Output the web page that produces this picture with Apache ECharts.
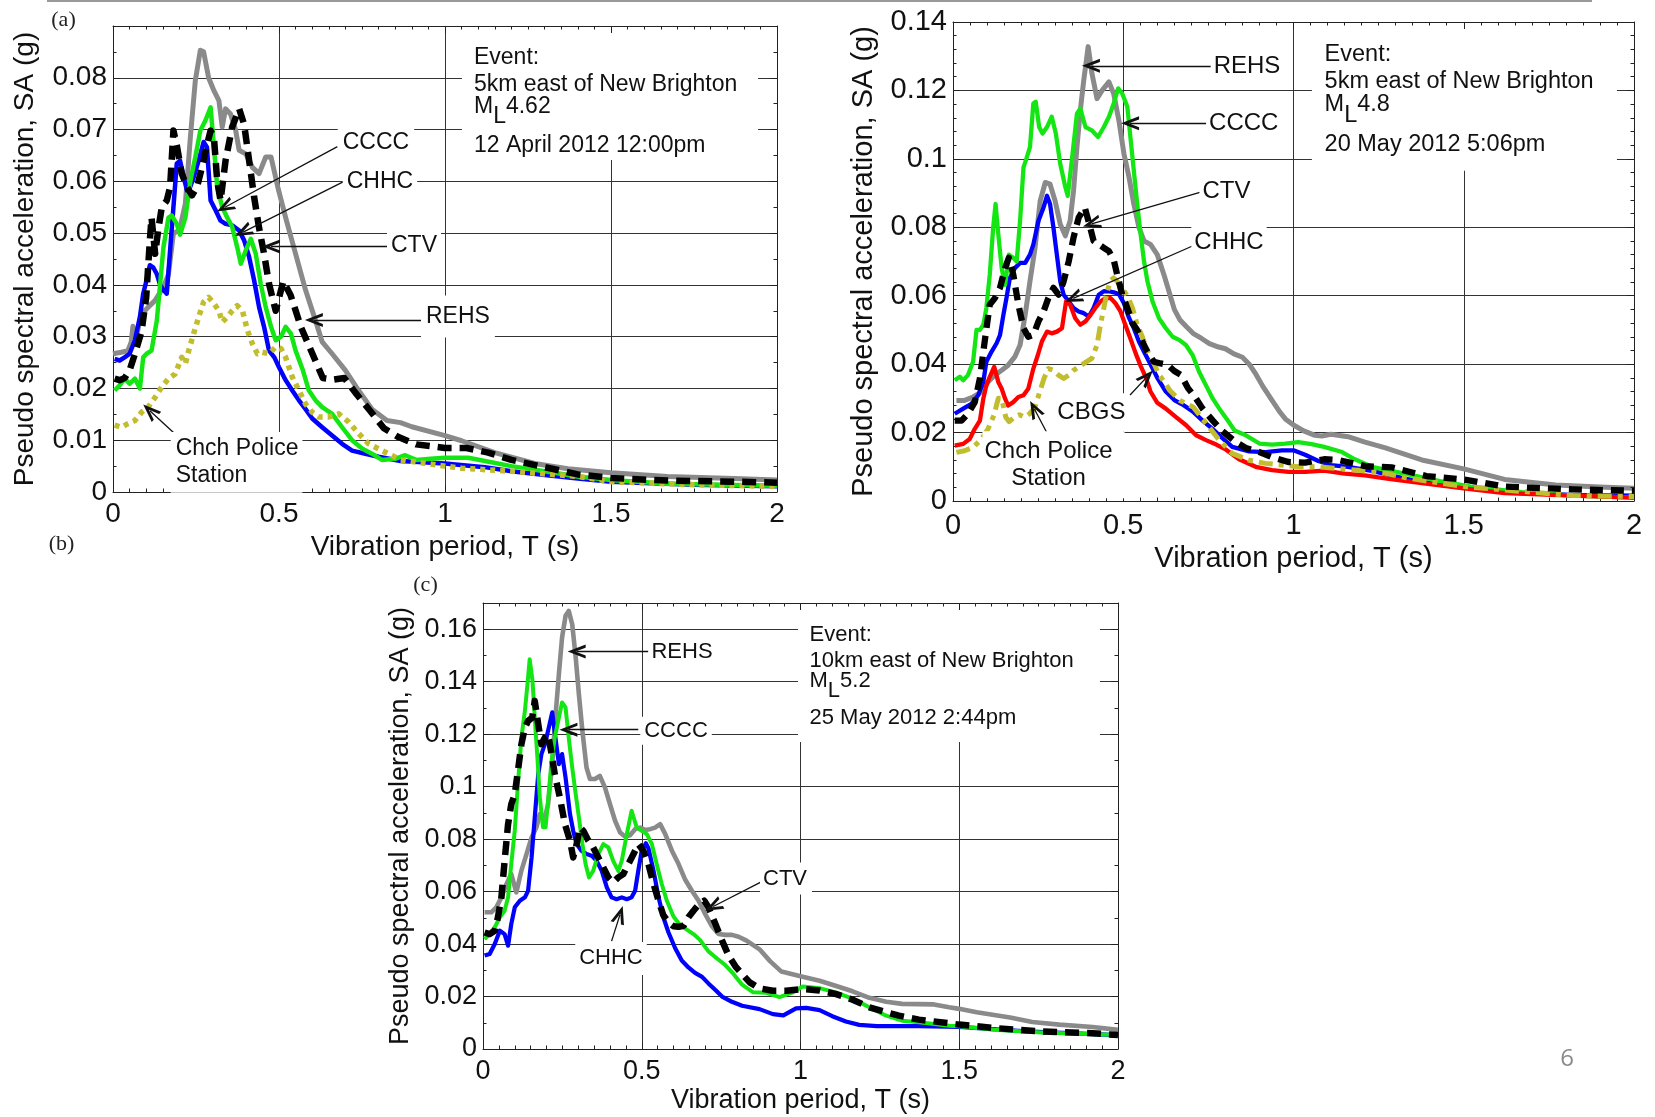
<!DOCTYPE html>
<html><head><meta charset="utf-8">
<script src="https://cdn.jsdelivr.net/npm/echarts@6/dist/echarts.min.js"></script>
<style>html,body{margin:0;padding:0;background:#fff;}#c{width:1655px;height:1117px;}</style>
</head><body><div id="c"></div>
<script>
// ---------------- DATA: [period T (s), SA (g)] ----------------
// (a) 12 April 2012
const A_REHS = [[0,0.0267],[0.025,0.027],[0.045,0.0273],[0.055,0.029],[0.06,0.032],[0.07,0.030],[0.086,0.0344],[0.106,0.0357],[0.127,0.037],[0.152,0.0396],[0.167,0.042],[0.182,0.050],[0.2,0.0505],[0.218,0.0557],[0.233,0.0685],[0.248,0.0795],[0.263,0.0853],[0.273,0.085],[0.288,0.080],[0.304,0.0775],[0.319,0.0756],[0.329,0.0705],[0.339,0.074],[0.354,0.073],[0.369,0.070],[0.38,0.066],[0.40,0.0653],[0.42,0.0627],[0.44,0.0615],[0.46,0.0647],[0.476,0.0647],[0.496,0.059],[0.52,0.053],[0.55,0.046],[0.58,0.039],[0.61,0.0331],[0.63,0.029],[0.66,0.0267],[0.70,0.0235],[0.74,0.0196],[0.78,0.016],[0.825,0.0138],[0.866,0.0134],[0.9,0.0126],[1.0,0.0109],[1.05,0.0099],[1.15,0.0076],[1.27,0.0055],[1.37,0.0045],[1.5,0.0037],[1.67,0.003],[1.87,0.0026],[2.0,0.0023]];
const A_CHHC = [[0.005,0.0257],[0.02,0.0254],[0.035,0.026],[0.05,0.0267],[0.066,0.0293],[0.081,0.0338],[0.091,0.0383],[0.101,0.0409],[0.111,0.0438],[0.121,0.0434],[0.132,0.0421],[0.142,0.040],[0.152,0.039],[0.162,0.0383],[0.172,0.0467],[0.182,0.055],[0.192,0.0634],[0.202,0.064],[0.213,0.0608],[0.223,0.0582],[0.233,0.059],[0.243,0.0608],[0.258,0.064],[0.273,0.0676],[0.283,0.0666],[0.294,0.0563],[0.309,0.0544],[0.324,0.0524],[0.339,0.0518],[0.359,0.0515],[0.38,0.0505],[0.395,0.0486],[0.41,0.0454],[0.425,0.0409],[0.44,0.0357],[0.455,0.0319],[0.47,0.0273],[0.486,0.026],[0.50,0.0241],[0.52,0.0216],[0.54,0.0196],[0.56,0.0177],[0.58,0.016],[0.60,0.0142],[0.63,0.0125],[0.66,0.0109],[0.69,0.0093],[0.72,0.008],[0.76,0.0074],[0.80,0.0068],[0.866,0.006],[1.0,0.0055],[1.12,0.0048],[1.2,0.004],[1.3,0.0033],[1.4,0.0026],[1.5,0.002],[1.75,0.0014],[2.0,0.0011]];
const A_CCCC = [[0.005,0.0196],[0.02,0.0206],[0.035,0.0219],[0.05,0.0209],[0.066,0.0219],[0.081,0.020],[0.091,0.026],[0.101,0.0267],[0.116,0.0273],[0.132,0.0331],[0.142,0.0402],[0.152,0.0473],[0.167,0.053],[0.177,0.0534],[0.192,0.0518],[0.202,0.0497],[0.218,0.053],[0.233,0.060],[0.248,0.0647],[0.263,0.0698],[0.278,0.0717],[0.294,0.0743],[0.304,0.0666],[0.314,0.0589],[0.329,0.055],[0.344,0.053],[0.359,0.0512],[0.374,0.0473],[0.385,0.0441],[0.40,0.0467],[0.415,0.0489],[0.43,0.046],[0.445,0.0402],[0.46,0.0357],[0.476,0.0319],[0.49,0.0293],[0.506,0.030],[0.52,0.0319],[0.536,0.0306],[0.55,0.0273],[0.572,0.0235],[0.59,0.0196],[0.61,0.0177],[0.63,0.0164],[0.66,0.0151],[0.69,0.0125],[0.72,0.010],[0.75,0.0084],[0.78,0.0074],[0.81,0.0062],[0.85,0.0064],[0.88,0.0071],[0.913,0.0062],[0.957,0.0064],[1.0,0.0066],[1.07,0.0066],[1.12,0.006],[1.2,0.005],[1.3,0.004],[1.4,0.003],[1.5,0.0023],[1.67,0.0016],[2.0,0.0012]];
const A_POLICE = [[0.005,0.0129],[0.025,0.0125],[0.045,0.0132],[0.066,0.0138],[0.086,0.0154],[0.106,0.0164],[0.127,0.0183],[0.147,0.0203],[0.167,0.0219],[0.187,0.0228],[0.207,0.026],[0.218,0.0248],[0.228,0.0273],[0.243,0.0306],[0.258,0.0338],[0.273,0.0367],[0.288,0.0376],[0.304,0.0364],[0.319,0.035],[0.329,0.0328],[0.344,0.0338],[0.359,0.035],[0.374,0.036],[0.39,0.035],[0.405,0.0312],[0.42,0.0286],[0.435,0.0267],[0.45,0.027],[0.47,0.0267],[0.49,0.028],[0.506,0.0277],[0.52,0.026],[0.54,0.0222],[0.56,0.0196],[0.58,0.017],[0.60,0.0154],[0.62,0.0145],[0.65,0.0145],[0.68,0.0151],[0.71,0.0135],[0.74,0.0113],[0.77,0.0093],[0.81,0.008],[0.866,0.0062],[1.0,0.005],[1.05,0.0046],[1.2,0.004],[1.4,0.003],[1.5,0.002],[1.75,0.0014],[2.0,0.0011]];
const A_CTV = [[0.005,0.0219],[0.02,0.0216],[0.035,0.022],[0.05,0.0235],[0.066,0.0267],[0.086,0.031],[0.10,0.0376],[0.111,0.0486],[0.116,0.053],[0.127,0.046],[0.137,0.051],[0.147,0.055],[0.162,0.0563],[0.172,0.0589],[0.182,0.0698],[0.192,0.067],[0.207,0.0615],[0.223,0.0589],[0.238,0.0573],[0.253,0.0589],[0.268,0.0627],[0.283,0.067],[0.294,0.0698],[0.304,0.0685],[0.314,0.060],[0.324,0.0563],[0.339,0.064],[0.359,0.0705],[0.38,0.074],[0.395,0.071],[0.41,0.064],[0.425,0.057],[0.44,0.051],[0.455,0.046],[0.47,0.0402],[0.49,0.035],[0.513,0.0407],[0.535,0.038],[0.567,0.0317],[0.6,0.0268],[0.632,0.022],[0.665,0.0217],[0.697,0.022],[0.73,0.0192],[0.773,0.0158],[0.816,0.0123],[0.86,0.0106],[0.913,0.0092],[1.0,0.0085],[1.065,0.0085],[1.13,0.0076],[1.2,0.0062],[1.3,0.0048],[1.4,0.0034],[1.5,0.0027],[1.67,0.0022],[1.87,0.002],[2.0,0.0018]];
// (b) 20 May 2012
const B_REHS = [[0.01,0.0294],[0.034,0.0294],[0.059,0.0304],[0.084,0.0319],[0.103,0.0348],[0.123,0.0368],[0.143,0.0382],[0.162,0.0397],[0.182,0.0422],[0.197,0.0456],[0.212,0.0544],[0.226,0.0642],[0.241,0.074],[0.256,0.0877],[0.271,0.0931],[0.285,0.0926],[0.30,0.0877],[0.315,0.0809],[0.33,0.0775],[0.344,0.0819],[0.354,0.0907],[0.364,0.1034],[0.374,0.1142],[0.384,0.123],[0.397,0.1328],[0.408,0.125],[0.423,0.1176],[0.438,0.120],[0.458,0.1225],[0.472,0.119],[0.487,0.1113],[0.502,0.1015],[0.517,0.0946],[0.531,0.0868],[0.546,0.080],[0.561,0.076],[0.58,0.075],[0.60,0.072],[0.62,0.066],[0.635,0.061],[0.65,0.056],[0.666,0.053],[0.685,0.051],[0.705,0.049],[0.73,0.0475],[0.753,0.046],[0.78,0.045],[0.8,0.0445],[0.825,0.043],[0.85,0.042],[0.87,0.040],[0.89,0.037],[0.91,0.0335],[0.937,0.0294],[0.96,0.026],[0.976,0.024],[1.0,0.0222],[1.03,0.0205],[1.063,0.0192],[1.083,0.019],[1.11,0.0195],[1.16,0.0188],[1.21,0.0172],[1.27,0.0155],[1.31,0.0142],[1.377,0.012],[1.5,0.0094],[1.62,0.0063],[1.77,0.0047],[1.917,0.004],[2.0,0.0037]];
const B_CHHC = [[0.005,0.0255],[0.03,0.027],[0.054,0.0284],[0.074,0.0309],[0.089,0.0348],[0.098,0.0407],[0.113,0.0436],[0.128,0.0461],[0.138,0.0485],[0.148,0.0544],[0.157,0.0593],[0.167,0.0652],[0.182,0.0681],[0.197,0.0696],[0.212,0.0696],[0.226,0.072],[0.236,0.075],[0.251,0.0819],[0.266,0.0858],[0.276,0.0892],[0.285,0.0868],[0.295,0.0799],[0.305,0.072],[0.315,0.0642],[0.325,0.0603],[0.34,0.0583],[0.354,0.0564],[0.369,0.0554],[0.384,0.0549],[0.399,0.0539],[0.413,0.0564],[0.428,0.0603],[0.443,0.0613],[0.458,0.0613],[0.472,0.061],[0.487,0.0605],[0.502,0.0578],[0.517,0.0535],[0.531,0.0505],[0.546,0.0466],[0.561,0.0436],[0.58,0.040],[0.60,0.036],[0.625,0.032],[0.65,0.0295],[0.674,0.0282],[0.704,0.0262],[0.733,0.0235],[0.763,0.021],[0.79,0.0185],[0.82,0.0158],[0.87,0.0145],[0.918,0.0143],[0.966,0.0148],[1.0,0.0148],[1.034,0.0135],[1.073,0.0117],[1.11,0.0105],[1.16,0.010],[1.23,0.0088],[1.33,0.0065],[1.43,0.0047],[1.52,0.0037],[1.67,0.0023],[1.82,0.0018],[2.0,0.0016]];
const B_CCCC = [[0.005,0.0353],[0.02,0.0363],[0.03,0.0353],[0.044,0.0368],[0.059,0.0407],[0.069,0.050],[0.079,0.050],[0.089,0.0515],[0.098,0.0564],[0.108,0.0662],[0.118,0.0799],[0.125,0.0868],[0.133,0.078],[0.143,0.068],[0.153,0.0632],[0.164,0.072],[0.177,0.0711],[0.187,0.070],[0.197,0.0819],[0.207,0.0975],[0.217,0.1005],[0.226,0.1034],[0.236,0.1162],[0.243,0.1167],[0.253,0.1093],[0.263,0.1074],[0.276,0.1093],[0.29,0.1123],[0.302,0.1074],[0.315,0.0985],[0.33,0.0917],[0.337,0.0892],[0.35,0.1005],[0.364,0.1132],[0.374,0.1147],[0.389,0.1093],[0.408,0.1083],[0.426,0.1064],[0.443,0.1093],[0.458,0.1123],[0.472,0.1162],[0.485,0.1206],[0.497,0.1191],[0.512,0.1152],[0.522,0.1054],[0.531,0.0966],[0.541,0.0868],[0.551,0.078],[0.561,0.0701],[0.571,0.0642],[0.586,0.0583],[0.605,0.0534],[0.625,0.0505],[0.645,0.048],[0.664,0.0471],[0.684,0.0456],[0.704,0.0426],[0.723,0.0377],[0.743,0.0338],[0.763,0.0299],[0.782,0.027],[0.807,0.0235],[0.827,0.0206],[0.86,0.0192],[0.9,0.0168],[0.937,0.0165],[0.976,0.0168],[1.014,0.0172],[1.053,0.0166],[1.09,0.0158],[1.14,0.0144],[1.18,0.0122],[1.23,0.010],[1.33,0.0079],[1.43,0.0058],[1.52,0.0042],[1.67,0.0026],[1.82,0.0016],[2.0,0.001]];
const B_CBGS = [[0.005,0.0162],[0.03,0.0167],[0.049,0.0181],[0.064,0.0211],[0.079,0.0235],[0.089,0.0299],[0.098,0.0338],[0.108,0.0363],[0.121,0.0392],[0.133,0.0348],[0.143,0.0328],[0.153,0.0299],[0.162,0.0279],[0.177,0.0289],[0.192,0.0304],[0.207,0.0309],[0.221,0.0328],[0.236,0.0387],[0.249,0.0426],[0.261,0.0466],[0.276,0.0495],[0.29,0.049],[0.305,0.0495],[0.32,0.0505],[0.332,0.0583],[0.344,0.0574],[0.359,0.0534],[0.374,0.0515],[0.389,0.0525],[0.404,0.0544],[0.418,0.0564],[0.433,0.0583],[0.448,0.0593],[0.463,0.0593],[0.477,0.0578],[0.492,0.0554],[0.507,0.0512],[0.522,0.0472],[0.536,0.0433],[0.551,0.0395],[0.566,0.0362],[0.58,0.032],[0.60,0.0287],[0.625,0.027],[0.655,0.0245],[0.684,0.0222],[0.714,0.0192],[0.743,0.0178],[0.773,0.0165],[0.802,0.015],[0.84,0.0122],[0.889,0.010],[0.937,0.009],[0.985,0.0085],[1.034,0.0085],[1.09,0.0089],[1.15,0.008],[1.21,0.0075],[1.28,0.0065],[1.377,0.0052],[1.5,0.0037],[1.62,0.0023],[1.82,0.0016],[2.0,0.001]];
const B_POLICE = [[0.01,0.0142],[0.034,0.0147],[0.059,0.0157],[0.084,0.0181],[0.103,0.0211],[0.12,0.025],[0.133,0.030],[0.143,0.030],[0.155,0.0245],[0.165,0.0232],[0.18,0.0245],[0.195,0.0252],[0.21,0.0245],[0.225,0.0255],[0.24,0.0272],[0.255,0.032],[0.268,0.036],[0.28,0.0387],[0.295,0.0382],[0.31,0.0368],[0.325,0.0358],[0.34,0.0368],[0.354,0.0382],[0.369,0.0392],[0.389,0.0405],[0.408,0.0417],[0.423,0.0456],[0.433,0.0515],[0.443,0.0564],[0.453,0.0613],[0.463,0.0645],[0.472,0.0652],[0.482,0.0642],[0.497,0.062],[0.512,0.060],[0.527,0.0564],[0.541,0.0515],[0.556,0.048],[0.571,0.044],[0.586,0.041],[0.605,0.037],[0.637,0.0323],[0.666,0.0294],[0.705,0.0275],[0.744,0.0226],[0.782,0.0178],[0.82,0.0139],[0.87,0.0119],[0.918,0.011],[0.966,0.0105],[1.014,0.010],[1.073,0.010],[1.13,0.0095],[1.19,0.009],[1.27,0.0081],[1.33,0.0068],[1.5,0.0042],[1.82,0.0016],[2.0,0.0013]];
const B_CTV = [[0.005,0.0235],[0.025,0.0235],[0.044,0.0255],[0.064,0.0289],[0.079,0.0358],[0.093,0.0466],[0.108,0.0574],[0.123,0.0593],[0.138,0.0623],[0.153,0.0681],[0.164,0.0711],[0.177,0.0662],[0.192,0.0574],[0.207,0.0505],[0.221,0.048],[0.236,0.0485],[0.251,0.0525],[0.266,0.0554],[0.28,0.0593],[0.295,0.0623],[0.31,0.0603],[0.325,0.0642],[0.34,0.0701],[0.354,0.077],[0.369,0.0828],[0.387,0.0858],[0.399,0.0814],[0.413,0.076],[0.428,0.075],[0.443,0.074],[0.458,0.073],[0.472,0.0705],[0.482,0.0662],[0.497,0.0603],[0.512,0.0564],[0.527,0.052],[0.541,0.050],[0.556,0.0466],[0.571,0.0436],[0.59,0.0407],[0.61,0.0402],[0.63,0.0398],[0.65,0.038],[0.67,0.0368],[0.69,0.033],[0.71,0.0305],[0.733,0.027],[0.763,0.0235],[0.79,0.0205],[0.827,0.0175],[0.86,0.0155],[0.9,0.0143],[0.937,0.0128],[0.985,0.0114],[1.034,0.0112],[1.09,0.0122],[1.13,0.012],[1.21,0.0102],[1.29,0.0098],[1.39,0.0073],[1.5,0.0063],[1.62,0.0042],[1.82,0.0034],[2.0,0.003]];
// (c) 25 May 2012
const C_REHS = [[0.005,0.0521],[0.026,0.0521],[0.042,0.054],[0.058,0.0578],[0.074,0.0629],[0.089,0.0667],[0.105,0.0597],[0.121,0.068],[0.137,0.0743],[0.153,0.0806],[0.168,0.0844],[0.179,0.0895],[0.195,0.0883],[0.205,0.0933],[0.218,0.1086],[0.228,0.1263],[0.239,0.1429],[0.249,0.1568],[0.26,0.1651],[0.27,0.167],[0.281,0.1619],[0.292,0.1492],[0.302,0.1352],[0.313,0.1213],[0.326,0.1073],[0.337,0.1029],[0.353,0.1029],[0.368,0.1041],[0.384,0.0997],[0.40,0.0933],[0.416,0.087],[0.432,0.0825],[0.447,0.081],[0.463,0.0815],[0.479,0.0838],[0.495,0.0844],[0.51,0.0835],[0.526,0.0838],[0.542,0.0844],[0.558,0.0857],[0.574,0.0819],[0.595,0.0756],[0.616,0.0705],[0.637,0.0645],[0.658,0.0603],[0.679,0.0565],[0.70,0.0514],[0.72,0.047],[0.742,0.0438],[0.763,0.0435],[0.784,0.0435],[0.805,0.0428],[0.83,0.0413],[0.871,0.038],[0.904,0.0335],[0.94,0.0295],[1.0,0.0277],[1.06,0.026],[1.11,0.0241],[1.164,0.022],[1.217,0.0195],[1.27,0.018],[1.32,0.0172],[1.42,0.017],[1.468,0.0159],[1.5,0.0153],[1.555,0.014],[1.66,0.012],[1.73,0.0103],[1.815,0.0093],[1.92,0.0084],[2.0,0.0073]];
const C_CHHC = [[0.005,0.0356],[0.021,0.0362],[0.037,0.040],[0.053,0.0451],[0.068,0.0438],[0.079,0.0394],[0.089,0.0476],[0.10,0.054],[0.116,0.0565],[0.132,0.0578],[0.142,0.0603],[0.153,0.073],[0.163,0.0883],[0.174,0.1048],[0.184,0.1124],[0.195,0.1162],[0.205,0.1213],[0.218,0.1283],[0.228,0.1187],[0.239,0.1086],[0.249,0.1124],[0.26,0.1035],[0.274,0.0895],[0.284,0.0832],[0.295,0.0781],[0.31,0.0756],[0.326,0.0743],[0.342,0.0737],[0.358,0.0717],[0.374,0.0679],[0.39,0.0616],[0.405,0.0578],[0.421,0.0571],[0.437,0.0578],[0.453,0.0571],[0.468,0.0578],[0.479,0.0603],[0.489,0.0679],[0.50,0.0756],[0.513,0.0784],[0.521,0.0765],[0.537,0.068],[0.553,0.0578],[0.568,0.0502],[0.584,0.0445],[0.605,0.0385],[0.626,0.0337],[0.647,0.0311],[0.668,0.029],[0.69,0.0275],[0.71,0.025],[0.732,0.0225],[0.753,0.020],[0.784,0.018],[0.816,0.0165],[0.871,0.0152],[0.913,0.0133],[0.946,0.0128],[0.986,0.0155],[1.018,0.0157],[1.06,0.0148],[1.1,0.0125],[1.143,0.0105],[1.185,0.0092],[1.24,0.0087],[1.373,0.0087],[1.5,0.0084],[1.71,0.0067],[2.0,0.0053]];
const C_CCCC = [[0.005,0.0419],[0.021,0.0438],[0.037,0.0464],[0.053,0.0502],[0.068,0.0527],[0.079,0.0578],[0.089,0.0705],[0.10,0.0832],[0.11,0.101],[0.121,0.1187],[0.132,0.1289],[0.14,0.139],[0.147,0.1486],[0.156,0.1403],[0.163,0.1263],[0.172,0.1098],[0.179,0.0959],[0.189,0.0845],[0.197,0.0845],[0.205,0.0946],[0.216,0.1098],[0.226,0.1187],[0.237,0.1251],[0.249,0.1321],[0.26,0.1302],[0.27,0.1187],[0.281,0.1073],[0.292,0.0971],[0.302,0.0883],[0.313,0.0781],[0.323,0.0705],[0.334,0.0654],[0.347,0.0679],[0.363,0.0743],[0.379,0.0781],[0.395,0.0768],[0.41,0.0717],[0.426,0.0679],[0.437,0.0717],[0.453,0.0819],[0.468,0.0908],[0.484,0.0845],[0.50,0.0832],[0.516,0.0819],[0.532,0.0781],[0.547,0.0705],[0.563,0.0629],[0.579,0.0565],[0.60,0.0505],[0.621,0.0472],[0.642,0.0455],[0.663,0.0438],[0.684,0.0415],[0.71,0.0372],[0.737,0.0345],[0.763,0.032],[0.789,0.0286],[0.816,0.0245],[0.851,0.0216],[0.892,0.0214],[0.934,0.0198],[0.976,0.0216],[1.007,0.0238],[1.06,0.0232],[1.11,0.0216],[1.164,0.0192],[1.217,0.0159],[1.27,0.0127],[1.32,0.0108],[1.373,0.0102],[1.468,0.0089],[1.5,0.0087],[1.61,0.0073],[1.76,0.0063],[2.0,0.0053]];
const C_CTV = [[0.005,0.0444],[0.021,0.0438],[0.037,0.0451],[0.047,0.0502],[0.058,0.0578],[0.068,0.0717],[0.079,0.0857],[0.089,0.0933],[0.10,0.0971],[0.11,0.106],[0.121,0.1162],[0.132,0.1225],[0.142,0.1251],[0.155,0.1263],[0.163,0.1327],[0.174,0.1238],[0.184,0.1162],[0.195,0.1187],[0.205,0.12],[0.216,0.1124],[0.226,0.1048],[0.242,0.0959],[0.258,0.0857],[0.274,0.0794],[0.284,0.073],[0.295,0.0781],[0.305,0.0845],[0.316,0.0832],[0.332,0.0794],[0.347,0.0768],[0.363,0.073],[0.379,0.0692],[0.395,0.0654],[0.41,0.0635],[0.426,0.0654],[0.442,0.0667],[0.458,0.0705],[0.474,0.0743],[0.489,0.0781],[0.505,0.0756],[0.521,0.0705],[0.537,0.063],[0.553,0.0565],[0.568,0.051],[0.584,0.0483],[0.60,0.0468],[0.616,0.0466],[0.632,0.047],[0.647,0.0502],[0.663,0.0527],[0.679,0.055],[0.697,0.0565],[0.71,0.054],[0.732,0.0476],[0.753,0.0413],[0.774,0.0355],[0.795,0.0315],[0.816,0.0286],[0.84,0.0254],[0.871,0.0231],[0.913,0.0222],[0.955,0.0222],[1.007,0.0229],[1.06,0.0223],[1.11,0.021],[1.164,0.0188],[1.217,0.0159],[1.27,0.014],[1.31,0.0127],[1.373,0.0112],[1.468,0.0098],[1.5,0.0093],[1.61,0.008],[1.76,0.0067],[1.92,0.006],[2.0,0.0053]];

// axis ranges / tick steps per panel
const X_RANGE = [0, 2], X_STEP = 0.5;
const Y_MAX = [0.09, 0.14, 0.17];
const Y_STEP = [0.01, 0.02, 0.02];
const Y_MINOR = [2, 5, 2];
const AXIS_TITLE_X = 'Vibration period, T (s)';
const AXIS_TITLE_Y = 'Pseudo spectral acceleration, SA (g)';

// ---------------- LAYOUT / STYLE ----------------
const FONT = '"Liberation Sans", Arial, sans-serif';
const GRIDS = [
  {left:113, top:26, width:664, height:466},
  {left:953, top:22, width:681, height:479},
  {left:483, top:603, width:635, height:446}
];
const FS = [28, 29, 27];
const XMARGIN = [8, 10, 9], YMARGIN = [6, 6, 6];
const XGAP = [41, 43, 38], YGAP = [74, 75, 69];

const COL = {REHS:'#8a8a8a', CCCC:'#14e614', CHHC:'#0000ff', CBGS:'#ff0000', CTV:'#000000', POL:'#c2bd2c'};
const CHEV = 'path://M0,20 L9,0 L18,20 L14,20 L9,8.5 L4,20 Z';

function fmtHide(hide){
  return function(v){ if (hide !== null && Math.abs(v-hide) < 1e-9) return ''; return String(+v.toFixed(4)); };
}

const xAxes = [], yAxes = [];
for (let p = 0; p < 3; p++) {
  const tickStyle = {color:'#222', width:1};
  xAxes.push({type:'value', gridIndex:p, position:'bottom', min:X_RANGE[0], max:X_RANGE[1], interval:X_STEP,
    axisLine:{show:true, onZero:false, lineStyle:{color:'#222', width:1}},
    axisTick:{show:true, inside:true, length:7, lineStyle:tickStyle},
    minorTick:{show:true, splitNumber:10, length:3.5, lineStyle:tickStyle},
    axisLabel:{show:true, margin:XMARGIN[p], fontSize:FS[p], fontFamily:FONT, color:'#111', formatter:fmtHide(null)},
    splitLine:{show:true, lineStyle:{color:'#333', width:1}},
    name:AXIS_TITLE_X, nameLocation:'middle', nameGap:XGAP[p],
    nameTextStyle:{fontSize:FS[p], fontFamily:FONT, color:'#111'}});
  xAxes.push({type:'value', gridIndex:p, position:'top', min:X_RANGE[0], max:X_RANGE[1], interval:X_STEP, z:3,
    axisLine:{show:true, onZero:false, lineStyle:{color:'#222', width:1}},
    axisTick:{show:true, inside:true, length:7, lineStyle:tickStyle},
    minorTick:{show:true, splitNumber:10, length:3.5, lineStyle:tickStyle},
    axisLabel:{show:false}, splitLine:{show:false}});
  const hide = (p === 1) ? null : Y_MAX[p];
  yAxes.push({type:'value', gridIndex:p, position:'left', min:0, max:Y_MAX[p], interval:Y_STEP[p],
    axisLine:{show:true, onZero:false, lineStyle:{color:'#222', width:1}},
    axisTick:{show:true, inside:true, length:7, lineStyle:tickStyle},
    minorTick:{show:true, splitNumber:Y_MINOR[p], length:3.5, lineStyle:tickStyle},
    axisLabel:{show:true, margin:YMARGIN[p], fontSize:FS[p], fontFamily:FONT, color:'#111', formatter:fmtHide(hide)},
    splitLine:{show:true, lineStyle:{color:'#333', width:1}},
    name:AXIS_TITLE_Y, nameLocation:'middle', nameRotate:90, nameGap:YGAP[p],
    nameTextStyle:{fontSize:FS[p], fontFamily:FONT, color:'#111'}});
  yAxes.push({type:'value', gridIndex:p, position:'right', min:0, max:Y_MAX[p], interval:Y_STEP[p], z:3,
    axisLine:{show:true, onZero:false, lineStyle:{color:'#222', width:1}},
    axisTick:{show:true, inside:true, length:7, lineStyle:tickStyle},
    minorTick:{show:true, splitNumber:Y_MINOR[p], length:3.5, lineStyle:tickStyle},
    axisLabel:{show:false}, splitLine:{show:false}});
}

function line(p, name, data, color, width, dash, z) {
  return {type:'line', name:name, xAxisIndex:2*p, yAxisIndex:2*p, data:data, symbol:'none', showSymbol:false,
    smooth:false, silent:true, z:z||2, animation:false,
    lineStyle:{color:color, width:width, type:dash||'solid', cap:'butt', join:'round'},
    emphasis:{disabled:true}};
}

function txt(t, s, text, o) {
  o = o || {};
  const pad = o.pad || [0,0,0,0];
  const align = o.align || 'center';
  const va = o.va || 'middle';
  let dx = 0, dy = 0;
  if (align === 'center') dx = -(pad[3]-pad[1])/2; else if (align === 'left') dx = -pad[3]; else dx = pad[1];
  if (va === 'middle') dy = -(pad[0]-pad[2])/2; else if (va === 'top') dy = -pad[0]; else dy = pad[2];
  const lab = {show:true, position:'inside', formatter:text, align:align, verticalAlign:va,
    offset:[dx + (o.dx||0), dy + (o.dy||0)], fontFamily:FONT, fontSize:o.size||23, color:'#111',
    padding:pad};
  if (o.bg) lab.backgroundColor = '#ffffff';
  if (o.lh) lab.lineHeight = o.lh;
  if (o.rich) lab.rich = o.rich;
  return {coord:[t, s], symbol:'rect', symbolSize:1, itemStyle:{color:'rgba(0,0,0,0)'}, label:lab};
}
function ml(size, num) {
  const m = {fontFamily:FONT, fontSize:size, color:'#111', lineHeight:size, verticalAlign:'top'};
  const sub = {fontFamily:FONT, fontSize:size, color:'#111', lineHeight:size, verticalAlign:'top', padding:[Math.round(size*0.45),0,0,0]};
  return {text:'{m|M}{s|L}{m|' + num + '}', rich:{m:m, s:sub}};
}
function lead(t1, s1, t2, s2) {
  return [{coord:[t1, s1], symbol:'none'}, {coord:[t2, s2], symbol:CHEV}];
}
function annSeries(p, texts, leads, boxes) {
  return [
    {type:'line', name:'box'+p, xAxisIndex:2*p, yAxisIndex:2*p, data:[], z:1, silent:true, animation:false,
      markArea:{silent:true, animation:false, itemStyle:{color:'#ffffff', opacity:1, borderWidth:0}, label:{show:false},
        data:boxes.map(b => [{coord:[b[0], b[1]]}, {coord:[b[2], b[3]]}])}},
    {type:'line', name:'ann'+p, xAxisIndex:2*p, yAxisIndex:2*p, data:[], z:4, silent:true, animation:false,
      markLine:{silent:true, animation:false, symbol:['none', CHEV], symbolSize:[14,18], label:{show:false},
        lineStyle:{color:'#111', width:1.3, type:'solid'}, itemStyle:{color:'#111'}, emphasis:{disabled:true},
        data:leads},
      markPoint:{silent:true, animation:false, data:texts}}
  ];
}

// ---- panel (a)
const mlA = ml(23, '4.62');
const annA = annSeries(0, [
  txt(0.792, 0.0669, 'CCCC', {bg:true, pad:[8,5,2,5]}),
  txt(0.804, 0.05997, 'CHHC', {bg:true, pad:[2,4,2,4]}),
  txt(0.9066, 0.04712, 'CTV', {bg:true, pad:[7,4,2,4]}),
  txt(1.039, 0.03322, 'REHS', {bg:true, pad:[13,5,6,5]}),
  txt(0.1889, 0.005736, 'Chch Police\nStation', {bg:true, align:'left', lh:27.4, pad:[3,4,3,5]}),
  txt(1.0873, 0.08382, 'Event:', {align:'left'}),
  txt(1.0873, 0.07872, '5km east of New Brighton', {align:'left'}),
  txt(1.0873, 0.07443, mlA.text, {align:'left', va:'top', dy:-11.5, rich:mlA.rich}),
  txt(1.0873, 0.06688, '12 April 2012 12:00pm', {align:'left'})
], [
  lead(0.676, 0.0667, 0.337, 0.0550),
  lead(0.693, 0.0599, 0.392, 0.0502),
  lead(0.827, 0.0474, 0.476, 0.0474),
  lead(0.928, 0.0332, 0.605, 0.0332),
  lead(0.187, 0.0112, 0.111, 0.0157)
], [[1.051, 0.0641, 1.943, 0.09]]);

// ---- panel (b)
const mlB = ml(23.5, '4.8');
const annB = annSeries(1, [
  txt(0.8634, 0.1270, 'REHS', {bg:true, size:24, pad:[2,3,2,3]}),
  txt(0.8538, 0.11028, 'CCCC', {bg:true, size:24, pad:[2,3,2,3]}),
  txt(0.8032, 0.09046, 'CTV', {bg:true, size:24, pad:[2,3,2,3]}),
  txt(0.8106, 0.07489, 'CHHC', {bg:true, size:24, pad:[7,3,2,3]}),
  txt(0.4064, 0.02564, 'CBGS', {bg:true, size:24, pad:[8,3,6,3]}),
  txt(0.2805, 0.00925, 'Chch Police\nStation', {bg:true, size:24, lh:27, pad:[11,12,2,2]}),
  txt(1.0913, 0.13063, 'Event:', {align:'left', size:23.5}),
  txt(1.0913, 0.12258, '5km east of New Brighton', {align:'left', size:23.5}),
  txt(1.0913, 0.11586, mlB.text, {align:'left', va:'top', dy:-11.75, size:23.5, rich:mlB.rich}),
  txt(1.0913, 0.10426, '20 May 2012 5:06pm', {align:'left', size:23.5})
], [
  lead(0.761, 0.1272, 0.405, 0.1272),
  lead(0.749, 0.1104, 0.52, 0.1104),
  lead(0.725, 0.0902, 0.407, 0.081),
  lead(0.705, 0.0746, 0.353, 0.0592),
  lead(0.52, 0.031, 0.569, 0.0362),
  lead(0.275, 0.0201, 0.239, 0.0269)
], [[1.054, 0.0965, 1.95, 0.14]]);

// ---- panel (c)
const mlC = ml(22, '5.2');
const annC = annSeries(2, [
  txt(0.6268, 0.15128, 'REHS', {bg:true, size:22, pad:[2,3,2,3]}),
  txt(0.6079, 0.12133, 'CCCC', {bg:true, size:22, pad:[3,4,3,4]}),
  txt(0.9512, 0.06383, 'CTV', {bg:true, size:22, pad:[8,5,2,3]}),
  txt(0.4031, 0.03357, 'CHHC', {bg:true, size:22, pad:[8,4,3,4]}),
  txt(1.0284, 0.15784, 'Event:', {align:'left', size:22}),
  txt(1.0284, 0.14803, '10km east of New Brighton', {align:'left', size:22}),
  txt(1.0284, 0.14014, mlC.text, {align:'left', va:'top', dy:-11, size:22, rich:mlC.rich}),
  txt(1.0284, 0.12629, '25 May 2012 2:44pm', {align:'left', size:22})
], [
  lead(0.5206, 0.1515, 0.295, 0.1515),
  lead(0.489, 0.1217, 0.269, 0.1217),
  lead(0.878, 0.0638, 0.725, 0.0543),
  lead(0.405, 0.0411, 0.4315, 0.0512)
], [[0.992, 0.117, 1.943, 0.17]]);

const series = [].concat(
  annA,
  line(0, 'REHS', A_REHS, COL.REHS, 5),
  line(0, 'CHHC', A_CHHC, COL.CHHC, 4.5),
  line(0, 'CCCC', A_CCCC, COL.CCCC, 4.5),
  line(0, 'Chch Police Station', A_POLICE, COL.POL, 5.5, [5,5]),
  line(0, 'CTV', A_CTV, COL.CTV, 6.5, [14,8]),
  annB,
  line(1, 'REHS', B_REHS, COL.REHS, 5),
  line(1, 'CHHC', B_CHHC, COL.CHHC, 4.3),
  line(1, 'CCCC', B_CCCC, COL.CCCC, 4.3),
  line(1, 'CBGS', B_CBGS, COL.CBGS, 4.3),
  line(1, 'Chch Police Station', B_POLICE, COL.POL, 5, [14,6,5,6]),
  line(1, 'CTV', B_CTV, COL.CTV, 6.3, [13,8]),
  annC,
  line(2, 'REHS', C_REHS, COL.REHS, 4.6),
  line(2, 'CHHC', C_CHHC, COL.CHHC, 4.2),
  line(2, 'CCCC', C_CCCC, COL.CCCC, 4),
  line(2, 'CTV', C_CTV, COL.CTV, 6.5, [14,8])
);

const chart = echarts.init(document.getElementById('c'), null, {renderer:'canvas', width:1655, height:1117});
chart.setOption({
  backgroundColor:'#ffffff',
  animation:false,
  grid: GRIDS.map(g => Object.assign({containLabel:false, outerBoundsMode:'none', show:false}, g)),
  xAxis: xAxes,
  yAxis: yAxes,
  series: series,
  graphic: [
    {type:'line', silent:true, shape:{x1:47, y1:1, x2:1592, y2:1}, style:{stroke:'#777', lineWidth:1.5}},
    {type:'text', silent:true, x:63.5, y:20.5, style:{text:'(a)', font:'22px "Liberation Serif", serif', fill:'#222', align:'center', verticalAlign:'middle'}},
    {type:'text', silent:true, x:61.5, y:544.5, style:{text:'(b)', font:'22px "Liberation Serif", serif', fill:'#222', align:'center', verticalAlign:'middle'}},
    {type:'text', silent:true, x:425.5, y:585.5, style:{text:'(c)', font:'22px "Liberation Serif", serif', fill:'#222', align:'center', verticalAlign:'middle'}},
    {type:'text', silent:true, x:1567, y:1059, style:{text:'6', font:'24px "Open Sans", sans-serif', fill:'#8a8a8a', align:'center', verticalAlign:'middle'}}
  ]
});
</script></body></html>
